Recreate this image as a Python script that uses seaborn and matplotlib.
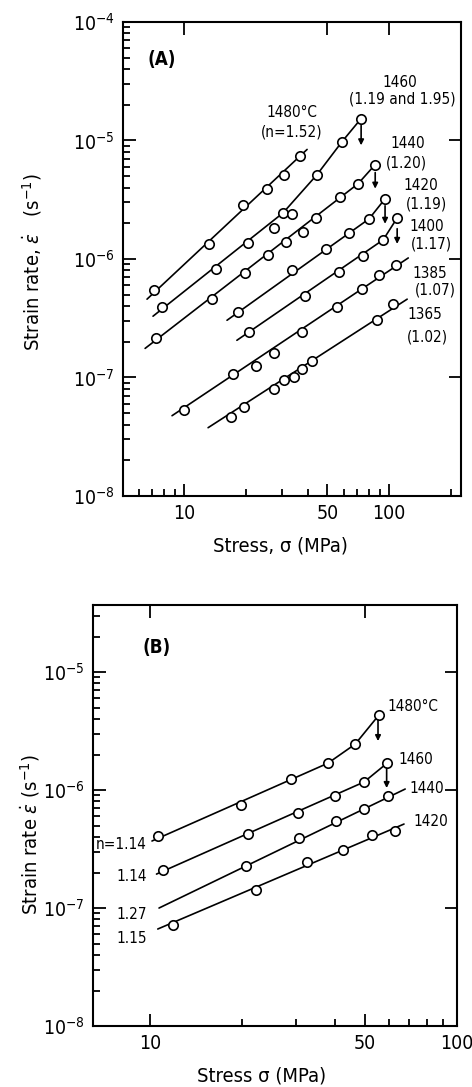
import numpy as np
import pandas as pd
import matplotlib
matplotlib.use("Agg")
import matplotlib.pyplot as plt
import seaborn as sns
from matplotlib.ticker import FixedLocator, FixedFormatter, LogLocator, NullFormatter

# ── Panel (A): measured points, stress (MPa) vs strain rate (1/s) ─────
a1480_x = [7.14, 13.2, 19.4, 25.4, 30.8, 36.8]
a1480_y = [5.46e-7, 1.34e-6, 2.87e-6, 3.92e-6, 5.15e-6, 7.46e-6]
a1460_x = [7.81, 14.3, 20.5, 27.5, 30.4, 33.6, 44.5, 59.0, 73.0]
a1460_y = [3.92e-7, 8.22e-7, 1.37e-6, 1.83e-6, 2.45e-6, 2.41e-6, 5.15e-6, 9.8e-6, 1.53e-5]
a1440_x = [7.30, 13.7, 19.9, 25.7, 31.5, 38.1, 44.0, 57.7, 70.6, 85.5]
a1440_y = [2.14e-7, 4.58e-7, 7.61e-7, 1.08e-6, 1.39e-6, 1.69e-6, 2.22e-6, 3.35e-6, 4.32e-6, 6.26e-6]
a1420_x = [18.3, 33.6, 49.3, 63.8, 79.8, 95.5]
a1420_y = [3.56e-7, 8.07e-7, 1.22e-6, 1.66e-6, 2.18e-6, 3.22e-6]
a1400_x = [20.8, 38.9, 57.0, 74.6, 93.5, 109.4]
a1400_y = [2.41e-7, 4.86e-7, 7.76e-7, 1.06e-6, 1.45e-6, 2.22e-6]
a1385_x = [10.0, 17.3, 22.4, 27.5, 37.7, 55.7, 73.8, 89.3, 108.0]
a1385_y = [5.36e-8, 1.08e-7, 1.24e-7, 1.60e-7, 2.41e-7, 3.92e-7, 5.57e-7, 7.31e-7, 8.89e-7]
a1365_x = [17.0, 19.6, 27.5, 30.8, 34.4, 37.7, 42.1, 87.3, 104.6]
a1365_y = [4.67e-8, 5.68e-8, 8.07e-8, 9.44e-8, 1.0e-7, 1.19e-7, 1.37e-7, 3.04e-7, 4.16e-7]

# drawn fit lines (vertices)
a1480_lx = [6.6, 39.8]
a1480_ly = [4.58e-7, 8.4e-6]
a1460_lx = [7.06, 30.4, 44.5, 59.0, 73.0]
a1460_ly = [3.29e-7, 2.45e-6, 5.15e-6, 9.8e-6, 1.53e-5]
a1440_lx = [6.46, 70.6, 85.5]
a1440_ly = [1.76e-7, 4.32e-6, 6.26e-6]
a1420_lx = [16.2, 79.8, 95.5]
a1420_ly = [3.04e-7, 2.18e-6, 3.22e-6]
a1400_lx = [18.1, 93.5, 109.4]
a1400_ly = [2.06e-7, 1.45e-6, 2.22e-6]
a1385_lx = [8.74, 123.9]
a1385_ly = [4.76e-8, 1.02e-6]
a1365_lx = [13.1, 122.4]
a1365_ly = [3.77e-8, 4.58e-7]

# fracture arrows
a_arrow_x = [73.0, 85.5, 95.5, 109.4]
a_arrow_y0 = [1.34e-5, 5.36e-6, 2.81e-6, 1.80e-6]
a_arrow_y1 = [9.1e-6, 3.92e-6, 1.98e-6, 1.34e-6]

# ── Panel (B) ──────────────────────────────────────────────────────────
b1480_x = [10.6, 19.8, 28.8, 38.0, 46.6, 55.7]
b1480_y = [4.07e-7, 7.46e-7, 1.24e-6, 1.69e-6, 2.45e-6, 4.33e-6]
b1460_x = [11.0, 20.8, 30.3, 40.1, 49.8, 59.2]
b1460_y = [2.10e-7, 4.24e-7, 6.38e-7, 8.89e-7, 1.17e-6, 1.69e-6]
b1440_x = [20.5, 30.5, 40.4, 49.8, 59.6]
b1440_y = [2.27e-7, 3.92e-7, 5.46e-7, 6.90e-7, 8.89e-7]
b1420_x = [11.9, 22.1, 32.5, 42.6, 52.8, 62.8]
b1420_y = [7.18e-8, 1.42e-7, 2.45e-7, 3.10e-7, 4.16e-7, 4.50e-7]

b1480_lx = [10.15, 38.0, 46.6, 55.7]
b1480_ly = [3.70e-7, 1.69e-6, 2.45e-6, 4.33e-6]
b1460_lx = [10.5, 49.8, 59.2]
b1460_ly = [1.94e-7, 1.17e-6, 1.69e-6]
b1440_lx = [10.7, 67.8]
b1440_ly = [1.0e-7, 1.02e-6]
b1420_lx = [10.6, 67.2]
b1420_ly = [6.64e-8, 5.15e-7]

b_arrow_x = [55.3, 59.0]
b_arrow_y0 = [3.92e-6, 1.53e-6]
b_arrow_y1 = [2.60e-6, 1.04e-6]

a_labels = ["1480°C", "(n=1.52)", "1460", "(1.19 and 1.95)", "1440", "(1.20)",
            "1420", "(1.19)", "1400", "(1.17)", "1385", "(1.07)", "1365", "(1.02)"]
b_labels_r = ["1480°C", "1460", "1440", "1420"]
b_labels_l = ["n=1.14", "1.14", "1.27", "1.15"]


def to_long(groups):
    rows = []
    for name, xs, ys in groups:
        for x, y in zip(xs, ys):
            rows.append({"series": name, "stress": x, "rate": y})
    return pd.DataFrame(rows)


pts_a = to_long([("1480", a1480_x, a1480_y), ("1460", a1460_x, a1460_y),
                 ("1440", a1440_x, a1440_y), ("1420", a1420_x, a1420_y),
                 ("1400", a1400_x, a1400_y), ("1385", a1385_x, a1385_y),
                 ("1365", a1365_x, a1365_y)])
lin_a = to_long([("1480", a1480_lx, a1480_ly), ("1460", a1460_lx, a1460_ly),
                 ("1440", a1440_lx, a1440_ly), ("1420", a1420_lx, a1420_ly),
                 ("1400", a1400_lx, a1400_ly), ("1385", a1385_lx, a1385_ly),
                 ("1365", a1365_lx, a1365_ly)])
pts_b = to_long([("1480", b1480_x, b1480_y), ("1460", b1460_x, b1460_y),
                 ("1440", b1440_x, b1440_y), ("1420", b1420_x, b1420_y)])
lin_b = to_long([("1480", b1480_lx, b1480_ly), ("1460", b1460_lx, b1460_ly),
                 ("1440", b1440_lx, b1440_ly), ("1420", b1420_lx, b1420_ly)])

sns.set_theme(style="ticks")
plt.rcParams["font.family"] = ["DejaVu Sans"]
plt.rcParams["font.stretch"] = "condensed"
plt.rcParams["mathtext.fontset"] = "dejavusans"
plt.rcParams["text.color"] = "black"
plt.rcParams["axes.labelcolor"] = "black"
plt.rcParams["xtick.color"] = "black"
plt.rcParams["ytick.color"] = "black"

fig = plt.figure(figsize=(4.72, 10.87), dpi=100)
ax_a = fig.add_axes([0.2606, 0.5437, 0.7161, 0.4361])
ax_b = fig.add_axes([0.197, 0.0561, 0.7712, 0.3873])


def draw(ax, pts, lin, arr_x, arr_y0, arr_y1):
    ax.set_xscale("log")
    ax.set_yscale("log")
    sns.lineplot(data=lin, x="stress", y="rate", units="series", estimator=None,
                 sort=False, color="black", lw=1.2, ax=ax, legend=False)
    sns.scatterplot(data=pts, x="stress", y="rate", marker="o", s=46,
                    facecolor="white", edgecolor="black", linewidth=1.2,
                    zorder=3, ax=ax, legend=False)
    for x, y0, y1 in zip(arr_x, arr_y0, arr_y1):
        ax.annotate("", xy=(x, y1), xytext=(x, y0),
                    arrowprops=dict(arrowstyle="-|>", color="black", lw=1.2,
                                    mutation_scale=8, shrinkA=0, shrinkB=0))
    for sp in ax.spines.values():
        sp.set_linewidth(1.5)
        sp.set_color("black")
    ax.tick_params(which="both", direction="in", top=True, right=True,
                   colors="black", labelsize=14, width=1.3)
    ax.tick_params(which="major", length=9, pad=6)
    ax.tick_params(which="minor", length=5, top=False, right=False)
    ax.yaxis.set_major_locator(LogLocator(base=10, numticks=10))
    ax.yaxis.set_minor_locator(LogLocator(base=10, subs=np.arange(2, 10), numticks=10))
    ax.yaxis.set_minor_formatter(NullFormatter())
    ax.xaxis.set_major_locator(FixedLocator([10, 50, 100]))
    ax.xaxis.set_major_formatter(FixedFormatter(["10", "50", "100"]))
    ax.xaxis.set_minor_formatter(NullFormatter())


draw(ax_a, pts_a, lin_a, a_arrow_x, a_arrow_y0, a_arrow_y1)
ax_a.set_xlim(5.04, 224)
ax_a.set_ylim(1e-8, 1e-4)
ax_a.xaxis.set_minor_locator(FixedLocator([6, 7, 8, 9, 20, 30, 40, 60, 70, 80, 90, 200]))
ax_a.set_xlabel("Stress, σ (MPa)", fontsize=14.5)
ax_a.set_ylabel(r"Strain rate, $\dot{\varepsilon}$   (s$^{-1}$)", fontsize=14.5)
ax_a.xaxis.set_label_coords(0.465, -0.085)
ax_a.yaxis.set_label_coords(-0.235, 0.494)

ax_a.text(0.071, 0.92, "(A)", transform=ax_a.transAxes, fontsize=13.5,
          fontweight="bold", ha="left", va="center")
a_pos = [(0.50, 0.808), (0.50, 0.768), (0.82, 0.873), (0.825, 0.837),
         (0.843, 0.743), (0.840, 0.703), (0.882, 0.656), (0.899, 0.616),
         (0.899, 0.568), (0.914, 0.532), (0.908, 0.470), (0.923, 0.435),
         (0.893, 0.382), (0.902, 0.335)]
for lab, (fx, fy) in zip(a_labels, a_pos):
    ax_a.text(fx, fy, lab, transform=ax_a.transAxes, fontsize=11,
              ha="center", va="center")

draw(ax_b, pts_b, lin_b, b_arrow_x, b_arrow_y0, b_arrow_y1)
ax_b.set_xlim(6.52, 100)
ax_b.set_ylim(1e-8, 3.7e-5)
ax_b.xaxis.set_minor_locator(FixedLocator([20, 30, 40, 60, 70, 80, 90]))
ax_b.set_xlabel("Stress σ (MPa)", fontsize=14.5)
ax_b.set_ylabel(r"Strain rate $\dot{\varepsilon}$ (s$^{-1}$)", fontsize=14.5)
ax_b.xaxis.set_label_coords(0.464, -0.095)
ax_b.yaxis.set_label_coords(-0.14, 0.454)
ax_b.text(0.135, 0.90, "(B)", transform=ax_b.transAxes, fontsize=13.5,
          fontweight="bold", ha="left", va="center")
b_pos_r = [(0.810, 0.758), (0.838, 0.632), (0.868, 0.563), (0.879, 0.485)]
for lab, (fx, fy) in zip(b_labels_r, b_pos_r):
    ax_b.text(fx, fy, lab, transform=ax_b.transAxes, fontsize=11,
              ha="left", va="center")
b_pos_l = [(0.148, 0.432), (0.148, 0.354), (0.148, 0.264), (0.148, 0.207)]
for lab, (fx, fy) in zip(b_labels_l, b_pos_l):
    ax_b.text(fx, fy, lab, transform=ax_b.transAxes, fontsize=11,
              ha="right", va="center")

fig.savefig("out.png", dpi=100)
